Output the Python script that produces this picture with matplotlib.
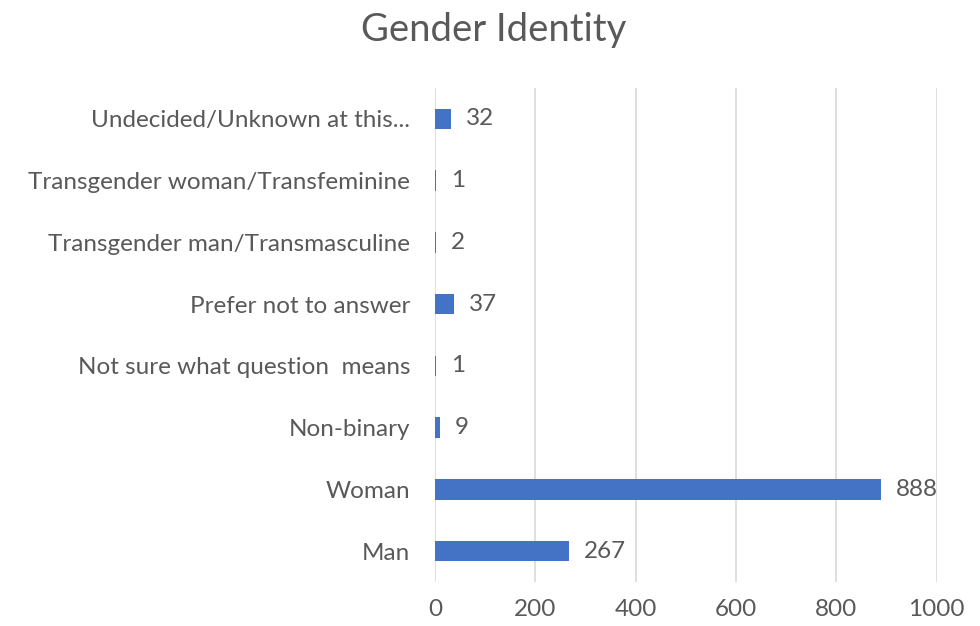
import matplotlib.pyplot as plt

# data, bottom to top as in the chart
categories = [
    "Man",
    "Woman",
    "Non-binary",
    "Not sure what question  means",
    "Prefer not to answer",
    "Transgender man/Transmasculine",
    "Transgender woman/Transfeminine",
    "Undecided/Unknown at this...",
]
counts = [267, 888, 9, 1, 37, 2, 1, 32]
x_ticks = [0, 200, 400, 600, 800, 1000]

text_color = "#595959"
bar_color = "#4472C4"

plt.rcParams['font.family'] = ['Lato', 'DejaVu Sans']

fig = plt.figure(figsize=(9.8, 6.26), dpi=100)
ax = fig.add_axes([0.4439, 0.0703, 0.512, 0.7891])

y = range(len(categories))
ax.barh(y, counts, height=0.33, color=bar_color, zorder=3)

for yi, c in zip(y, counts):
    ax.annotate(str(c), xy=(c, yi), xytext=(11, 0), textcoords='offset points',
                va='center', ha='left', fontsize=17.5, color=text_color)

ax.set_xlim(0, 1000)
ax.set_ylim(-0.5, len(categories) - 0.5)
ax.set_xticks(x_ticks)
ax.set_yticks(list(y))
ax.set_yticklabels(categories)
ax.tick_params(axis='both', length=0, labelsize=17.5, colors=text_color)
ax.tick_params(axis='y', pad=18)
ax.tick_params(axis='x', pad=12)

ax.grid(axis='x', color='#d9d9d9', linewidth=1.2, zorder=0)
for s in ax.spines.values():
    s.set_visible(False)

fig.text(0.5036, 0.952, "Gender Identity", ha='center', va='center',
         fontsize=27.5, color=text_color)

fig.savefig("out.png", dpi=100)
